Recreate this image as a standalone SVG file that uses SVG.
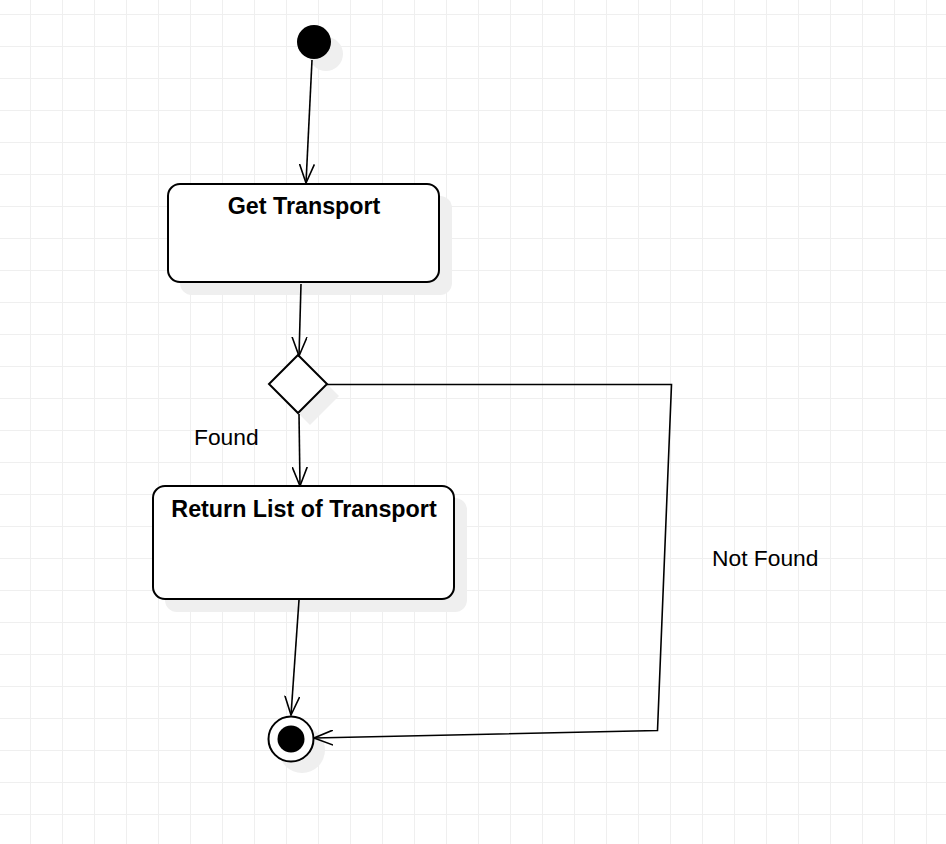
<svg xmlns="http://www.w3.org/2000/svg" width="946" height="844" viewBox="0 0 946 844">
<style>
.shape{fill:#fff;stroke:#000;stroke-width:2}
.shadow{fill:#efefef;stroke:none}
.conn{fill:none;stroke:#000;stroke-width:1.6}
.title{font-family:"Liberation Sans",Arial,sans-serif;font-size:23.3px;font-weight:bold;fill:#000;text-anchor:middle}
.lbl{font-family:"Liberation Sans",Arial,sans-serif;font-size:22.8px;fill:#000}
</style>
<defs>
<pattern id="grid" patternUnits="userSpaceOnUse" width="32" height="32">
<path d="M30.5 0V32M0 14.5H32" stroke="#efefef" stroke-width="1" fill="none"/>
</pattern>
<marker id="open" viewBox="0 0 20 16" refX="19" refY="8" markerWidth="20" markerHeight="16" markerUnits="userSpaceOnUse" orient="auto">
<path d="M0 0.5L19 8L0 15.5" fill="none" stroke="#000" stroke-width="1.6"/>
</marker>
</defs>
<rect width="946" height="844" fill="#fff"/>
<rect width="946" height="844" fill="url(#grid)"/>

<g id="start">
<circle class="shadow" cx="326" cy="54" r="17"/>
<circle cx="314" cy="42" r="17" fill="#000"/>
</g>

<g id="get-transport">
<rect class="shadow" x="180" y="196" width="272" height="99" rx="12"/>
<rect class="shape" x="168" y="184" width="271" height="98" rx="12"/>
<text class="title" x="304" y="214">Get Transport</text>
</g>

<g id="decision">
<polygon class="shadow" points="310,367 339,396 310,425 281,396"/>
<polygon class="shape" points="298,355 327,384 298,413 269,384"/>
</g>

<g id="return-list">
<rect class="shadow" x="165" y="498" width="302" height="114" rx="12"/>
<rect class="shape" x="153" y="486" width="301" height="113" rx="12"/>
<text class="title" x="304" y="517">Return List of Transport</text>
</g>

<g id="end">
<circle class="shadow" cx="302" cy="750" r="23"/>
<circle class="shape" cx="291" cy="739" r="22.5"/>
<circle cx="291" cy="739" r="13.5" fill="#000"/>
</g>

<g id="connectors">
<path class="conn" d="M312 60L306 183" marker-end="url(#open)"/>
<path class="conn" d="M301 284L299 356" marker-end="url(#open)"/>
<path class="conn" d="M299 414L300 486" marker-end="url(#open)"/>
<path class="conn" d="M299 600L291 715" marker-end="url(#open)"/>
<path class="conn" d="M327 384.5L671.5 384.5L657.5 730.5L314 738" marker-end="url(#open)"/>
<text class="lbl" x="194" y="445">Found</text>
<text class="lbl" x="712" y="566">Not Found</text>
</g>
</svg>
